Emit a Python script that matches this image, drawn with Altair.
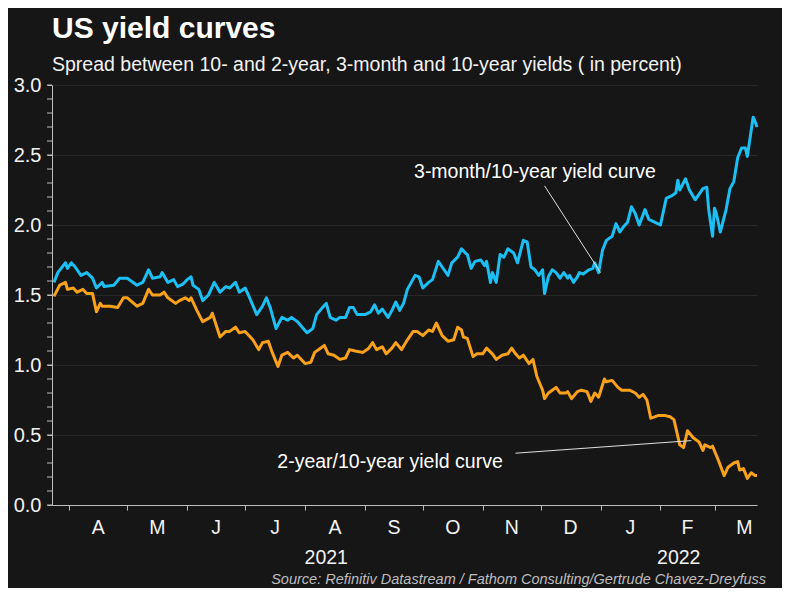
import altair as alt
import pandas as pd

START = "2021-03-23"
END = "2022-03-23"
YEAR_BREAK = "2022-01-01"

series_names = ["3-month/10-year", "2-year/10-year"]
colors = ["#1cbff3", "#f9a11b"]

# day offsets from START and spread values (percent)
blue_days = [1, 3, 7, 8, 10, 12, 15, 18, 21, 23, 26, 27, 32, 35, 39, 44, 47, 50, 52, 56,
             57, 60, 63, 65, 68, 70, 72, 73, 76, 78, 81, 84, 87, 90, 92, 95, 97, 100, 102, 106,
             109, 111, 113, 116, 119, 122, 124, 127, 132, 135, 137, 140, 142, 144, 147, 149, 152, 154, 156, 158,
             162, 165, 167, 169, 171, 174, 176, 178, 180, 182, 184, 188, 190, 192, 195, 197, 200, 202, 205, 207,
             210, 212, 214, 215, 217, 219, 222, 224, 225, 227, 228, 230, 232, 234, 236, 239, 241, 244, 246, 248,
             250, 252, 254, 255, 257, 259, 261, 263, 265, 267, 268, 270, 272, 273, 275, 278, 280, 281, 283, 285,
             287, 290, 292, 294, 296, 298, 300, 302, 304, 307, 309, 312, 315, 318, 321, 323, 324, 325, 328, 330,
             333, 337, 339, 340, 342, 343, 344, 346, 349, 351, 353, 355, 357, 359, 360, 363, 364, 365]
blue_vals = [1.59, 1.66, 1.73, 1.69, 1.73, 1.70, 1.64, 1.66, 1.62, 1.55, 1.59, 1.56, 1.57, 1.62, 1.62, 1.57, 1.59, 1.68, 1.62, 1.63,
             1.66, 1.59, 1.61, 1.56, 1.58, 1.61, 1.63, 1.57, 1.54, 1.46, 1.50, 1.59, 1.52, 1.56, 1.55, 1.59, 1.52, 1.55, 1.49, 1.36,
             1.42, 1.48, 1.41, 1.26, 1.34, 1.32, 1.34, 1.31, 1.23, 1.26, 1.36, 1.41, 1.44, 1.34, 1.32, 1.34, 1.34, 1.41, 1.41, 1.36,
             1.36, 1.38, 1.43, 1.37, 1.40, 1.34, 1.39, 1.45, 1.39, 1.44, 1.54, 1.64, 1.63, 1.55, 1.59, 1.61, 1.74, 1.70, 1.64, 1.73,
             1.77, 1.83, 1.80, 1.79, 1.69, 1.74, 1.75, 1.71, 1.74, 1.59, 1.66, 1.59, 1.79, 1.77, 1.83, 1.80, 1.73, 1.89, 1.88, 1.70,
             1.68, 1.64, 1.68, 1.51, 1.63, 1.68, 1.66, 1.62, 1.66, 1.62, 1.64, 1.59, 1.63, 1.66, 1.65, 1.68, 1.69, 1.73, 1.66, 1.82,
             1.89, 1.92, 2.01, 1.95, 1.99, 2.02, 2.13, 2.08, 2.00, 2.11, 2.04, 2.02, 2.00, 2.19, 2.21, 2.23, 2.32, 2.25, 2.33, 2.25,
             2.18, 2.26, 2.27, 2.11, 1.92, 2.12, 2.08, 1.95, 2.11, 2.26, 2.31, 2.48, 2.55, 2.55, 2.49, 2.77, 2.74, 2.70]

orange_days = [1, 4, 7, 8, 11, 13, 16, 18, 21, 23, 25, 26, 30, 34, 37, 39, 44, 47, 50, 52,
               56, 58, 60, 64, 66, 69, 71, 72, 75, 78, 82, 83, 87, 90, 92, 95, 97, 100, 104, 107,
               109, 112, 114, 117, 119, 122, 125, 127, 131, 134, 136, 139, 141, 143, 146, 149, 152, 154, 157, 161,
               164, 166, 168, 171, 173, 176, 178, 181, 184, 187, 189, 192, 195, 197, 199, 202, 205, 208, 210, 212,
               213, 215, 218, 220, 223, 225, 228, 230, 233, 236, 238, 240, 242, 244, 247, 249, 251, 254, 255, 257,
               259, 261, 263, 266, 267, 269, 272, 274, 277, 279, 281, 283, 286, 287, 290, 293, 295, 299, 302, 304,
               306, 308, 310, 312, 314, 317, 320, 322, 324, 325, 327, 329, 332, 335, 337, 338, 341, 342, 345, 348,
               350, 353, 355, 356, 358, 360, 362, 364, 365]
orange_vals = [1.49, 1.57, 1.59, 1.54, 1.55, 1.52, 1.54, 1.51, 1.51, 1.38, 1.44, 1.42, 1.42, 1.41, 1.48, 1.48, 1.42, 1.44, 1.54, 1.50,
               1.50, 1.52, 1.48, 1.44, 1.46, 1.48, 1.46, 1.48, 1.39, 1.31, 1.34, 1.37, 1.20, 1.24, 1.24, 1.27, 1.23, 1.24, 1.18, 1.11,
               1.16, 1.17, 1.09, 0.99, 1.07, 1.09, 1.05, 1.07, 1.01, 1.02, 1.09, 1.12, 1.14, 1.08, 1.07, 1.04, 1.05, 1.11, 1.10, 1.09,
               1.12, 1.16, 1.11, 1.13, 1.08, 1.12, 1.16, 1.11, 1.18, 1.24, 1.24, 1.21, 1.25, 1.24, 1.30, 1.21, 1.17, 1.18, 1.27, 1.25,
               1.20, 1.19, 1.06, 1.08, 1.08, 1.12, 1.08, 1.04, 1.07, 1.08, 1.12, 1.08, 1.05, 1.07, 1.01, 1.04, 0.92, 0.82, 0.76, 0.80,
               0.82, 0.84, 0.80, 0.80, 0.81, 0.76, 0.81, 0.82, 0.81, 0.74, 0.80, 0.77, 0.90, 0.88, 0.89, 0.84, 0.82, 0.82, 0.80, 0.77,
               0.79, 0.75, 0.62, 0.63, 0.64, 0.64, 0.63, 0.61, 0.49, 0.43, 0.41, 0.53, 0.48, 0.45, 0.39, 0.43, 0.41, 0.42, 0.32, 0.21,
               0.27, 0.30, 0.31, 0.25, 0.26, 0.19, 0.23, 0.21, 0.21]

month_letters = ["A", "M", "J", "J", "A", "S", "O", "N", "D", "J", "F", "M"]
year_labels = ["2021", "2022"]
y_major = [0.0, 0.5, 1.0, 1.5, 2.0, 2.5, 3.0]
y_minor = [round(i * 0.1, 1) for i in range(31)]

ann_texts = ["3-month/10-year yield curve", "2-year/10-year yield curve"]
ann_days = [250, 175]
ann_vals = [2.38, 0.31]
leader_days = [255, 240]
leader_vals = [2.28, 0.37]
leader_end_days = [284, 331]
leader_end_vals = [1.66, 0.46]

title_text = "US yield curves"
subtitle_text = "Spread between 10- and 2-year, 3-month and 10-year yields ( in percent)"
source_text = "Source: Refinitiv Datastream / Fathom Consulting/Gertrude Chavez-Dreyfuss"

W, H = 705, 420
FONT = "Liberation Sans"
BG = "#161616"
AXIS_GREY = "#bdbdbd"

start_ts = pd.Timestamp(START)
end_ts = pd.Timestamp(END)
break_ts = pd.Timestamp(YEAR_BREAK)


def to_dates(days):
    return start_ts + pd.to_timedelta(days, unit="D")


def dt(ts):
    return alt.DateTime(year=ts.year, month=ts.month, date=ts.day)


lines_df = pd.concat([
    pd.DataFrame({"date": to_dates(blue_days), "value": blue_vals, "series": series_names[0]}),
    pd.DataFrame({"date": to_dates(orange_days), "value": orange_vals, "series": series_names[1]}),
], ignore_index=True)

month_starts = pd.date_range("2021-04-01", "2022-03-01", freq="MS")
next_starts = pd.date_range("2021-05-01", "2022-04-01", freq="MS")
month_mids = month_starts + (next_starts - month_starts) / 2
months_df = pd.DataFrame({"date": month_mids, "label": month_letters})

years_df = pd.DataFrame({
    "date": [start_ts + (break_ts - start_ts) / 2, break_ts + (end_ts - break_ts) / 2],
    "label": year_labels,
})

ann_df = pd.DataFrame({"date": to_dates(ann_days), "value": ann_vals, "label": ann_texts})
lead_df = pd.DataFrame({
    "date": to_dates(leader_days), "value": leader_vals,
    "date2": to_dates(leader_end_days), "value2": leader_end_vals,
})
minor_df = pd.DataFrame({"value": y_minor})
source_df = pd.DataFrame({"label": [source_text]})

x_scale = alt.Scale(domain=[dt(start_ts), dt(end_ts)])
y_scale = alt.Scale(domain=[0, 3], nice=False)

x_axis = alt.Axis(values=[dt(d) for d in month_starts], labels=False, tickSize=5,
                  grid=False, title=None, domainColor=AXIS_GREY, tickColor=AXIS_GREY)
y_axis = alt.Axis(values=y_major, title=None, tickSize=5, labelPadding=6, format=".1f",
                  labelOverlap=False, labelFlush=False, grid=True,
                  gridColor="#282828", domainColor=AXIS_GREY, tickColor=AXIS_GREY,
                  labelFontSize=20, labelColor="#f2f2f2", labelFont=FONT)


def X(field):
    return alt.X(field, type="temporal", scale=x_scale, axis=x_axis)


def Y(field):
    return alt.Y(field, type="quantitative", scale=y_scale, axis=y_axis)


lines = alt.Chart(lines_df).mark_line(strokeWidth=3, strokeJoin="round").encode(
    x=X("date"),
    y=Y("value"),
    color=alt.Color("series:N", scale=alt.Scale(domain=series_names, range=colors), legend=None),
    detail="series:N",
)

minor_ticks = alt.Chart(minor_df).mark_rule(color=AXIS_GREY, strokeWidth=1).encode(
    x=alt.value(-5), x2=alt.value(0), y=Y("value"),
)

leaders = alt.Chart(lead_df).mark_rule(color="#e0e0e0", strokeWidth=1).encode(
    x=X("date"), x2="date2:T", y=Y("value"), y2="value2:Q",
)

ann = alt.Chart(ann_df).mark_text(fontSize=19.5, font=FONT, color="#ffffff",
                                  align="center", baseline="middle").encode(
    x=X("date"), y=Y("value"), text="label:N",
)

months = alt.Chart(months_df).mark_text(fontSize=19.5, font=FONT, color="#f2f2f2",
                                        align="center", baseline="middle").encode(
    x=X("date"), y=alt.value(H + 23), text="label:N",
)

years = alt.Chart(years_df).mark_text(fontSize=19.5, font=FONT, color="#f2f2f2",
                                      align="center", baseline="middle").encode(
    x=X("date"), y=alt.value(H + 53), text="label:N",
)

source = alt.Chart(source_df).mark_text(fontSize=14.5, font=FONT, fontStyle="italic", color="#bdbdbd",
                                        align="right", baseline="middle").encode(
    x=alt.value(W + 9), y=alt.value(H + 75), text="label:N",
)

chart = alt.layer(lines, minor_ticks, leaders, ann, months, years, source).properties(
    width=W, height=H,
    autosize=alt.AutoSizeParams(type="none"),
    padding={"left": 44, "top": 77, "right": 25, "bottom": 83},
    background=BG,
    title=alt.TitleParams(
        text=title_text, subtitle=subtitle_text, anchor="start", frame="group",
        font=FONT, fontSize=30, fontWeight="bold", color="#ffffff",
        subtitleFont=FONT, subtitleFontSize=19.5, subtitleColor="#f2f2f2",
        subtitlePadding=12, offset=1,
    ),
).configure_view(stroke=None, fill=BG)

chart.save("out.html", embed_options={"renderer": "svg", "actions": False})
